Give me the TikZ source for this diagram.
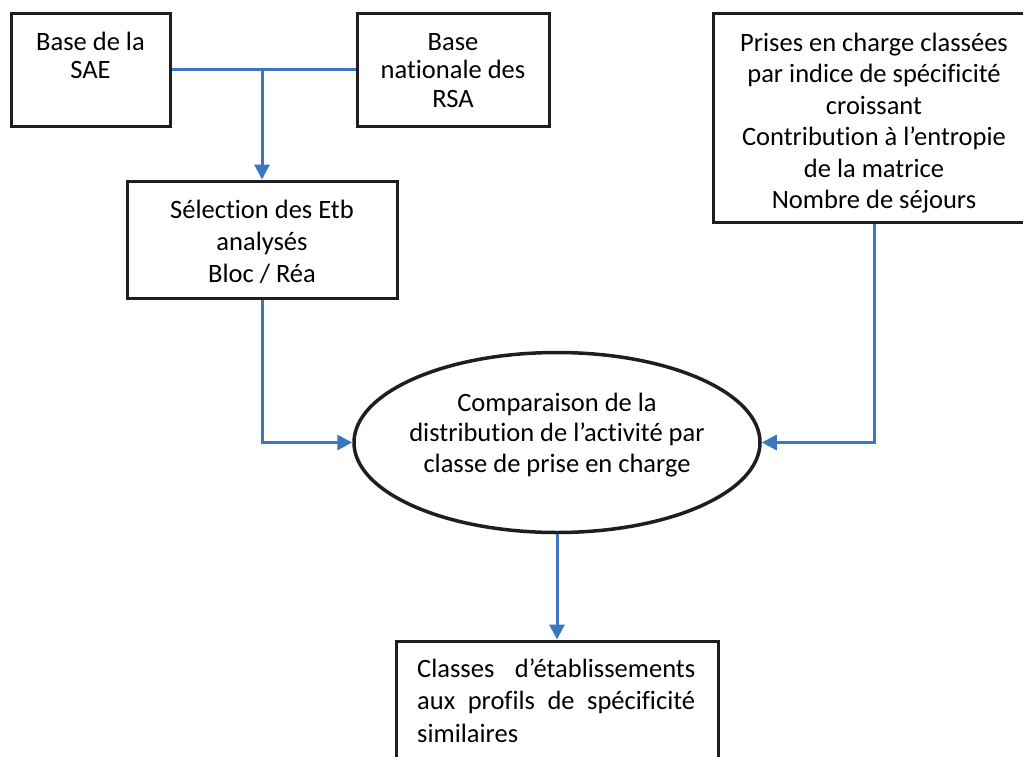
\documentclass[tikz,border=0pt]{standalone}
\usepackage{fontspec}
\setmainfont{Carlito}[Ligatures={NoCommon}]
\usetikzlibrary{shapes.geometric,arrows.meta}
\definecolor{connblue}{RGB}{58,119,191}
\definecolor{edgeblack}{RGB}{30,30,30}
\begin{document}
\begin{tikzpicture}[x=1pt,y=-1pt,
  box/.style={draw=edgeblack,line width=3pt,rectangle,inner sep=0pt,fill=white},
  oval/.style={draw=edgeblack,line width=3.5pt,ellipse,inner sep=0pt,fill=white},
  txt/.style={anchor=base,inner sep=0pt,font=\fontsize{26.5}{32}\selectfont},
  toptxt/.style={txt,font=\fontsize{26.5}{28.5}\selectfont},
  link/.style={draw=connblue,line width=3pt},
  arrowlink/.style={link,-{Triangle[width=15pt,length=15pt]}}]
\useasboundingbox (0,0) rectangle (1023,756);
\clip (0,0) rectangle (1023,756);
\fill[white] (0,0) rectangle (1023,756);

% boxes
\node[box,minimum width=159pt,minimum height=113pt] (sae) at (90.5,69.5) {};
\node[box,minimum width=192pt,minimum height=113pt] (rsa) at (453,69.5) {};
\node[box,minimum width=270pt,minimum height=117pt] (sel) at (262,239.5) {};
\node[box,minimum width=322pt,minimum height=209pt] (pr) at (874,117.5) {};
\node[oval,minimum width=406pt,minimum height=180pt] (ell) at (557,442.5) {};
\node[box,minimum width=322pt,minimum height=150pt] (cls) at (557,716) {};

% texts
\node[toptxt] (saet) at (90.5,50) {\begin{tabular}[t]{@{}c@{}}Base de la\\SAE\end{tabular}};
\node[toptxt] (rsat) at (453,50) {\begin{tabular}[t]{@{}c@{}}Base\\nationale des\\RSA\end{tabular}};
\node[txt] (selt) at (262,218) {\begin{tabular}[t]{@{}c@{}}Sélection des Etb\\analysés\\Bloc / Réa\end{tabular}};
\node[txt,font=\fontsize{26.5}{31.5}\selectfont] (prt) at (874,51) {\begin{tabular}[t]{@{}c@{}}Prises en charge classées\\par indice de spécificité\\croissant\\Contribution à l’entropie\\de la matrice\\Nombre de séjours\end{tabular}};
\node[txt,font=\fontsize{26.5}{30.5}\selectfont] (ellt) at (557,411) {\begin{tabular}[t]{@{}c@{}}Comparaison de la\\distribution de l’activité par\\classe de prise en charge\end{tabular}};
\node[txt,anchor=base west,font=\fontsize{26.5}{32.5}\selectfont] (clst) at (417,677) {\begin{tabular}[t]{@{}l@{}}\makebox[278pt][s]{Classes d’établissements}\\\makebox[278pt][s]{aux profils de spécificité}\\similaires\end{tabular}};

% connectors
\coordinate (junc) at (262,69.5);
\draw[link] (sae.east) -- (rsa.west);
\draw[arrowlink] (junc) -- (sel.north);
\draw[arrowlink] (sel.south) |- (ell.west);
\draw[arrowlink] (pr.south) |- (ell.east);
\draw[arrowlink] (ell.south) -- (cls.north);
\end{tikzpicture}
\end{document}
